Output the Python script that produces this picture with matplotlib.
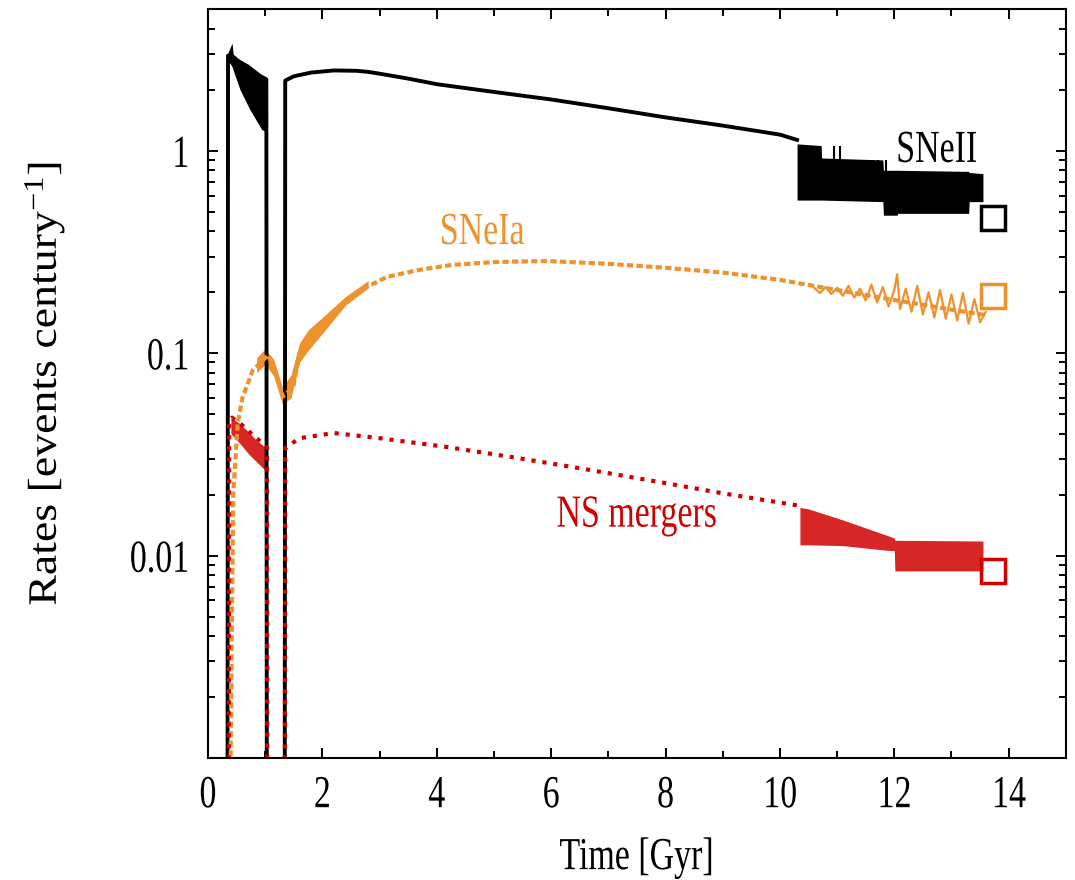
import numpy as np
import matplotlib
matplotlib.use("Agg")
import matplotlib.pyplot as plt
from matplotlib.patheffects import AbstractPathEffect
from matplotlib.transforms import Affine2D

plt.rcParams['font.family'] = ['Liberation Serif', 'DejaVu Serif']
plt.rcParams['mathtext.fontset'] = 'custom'
plt.rcParams['mathtext.rm'] = 'Liberation Serif'
plt.rcParams['mathtext.default'] = 'regular'

BLACK  = '#000000'
ORANGE = '#EE922E'
RED    = '#D00000'
FLOOR  = 1e-4      # below the axis: curve drops out of the plot

# ── Data ─────────────────────────────────────────────────────────────────────

# SNeII rate, black solid
sn2_t = [0.34, 0.35, 0.50, 0.70, 0.90, 1.02, 1.03, 1.34, 1.35, 1.50, 1.80,
         2.20, 2.60, 2.80, 3.00, 3.50, 4.00, 5.00, 6.00, 7.00, 8.00, 9.00,
         10.00, 10.30]
sn2_r = [FLOOR, 2.95, 2.80, 2.60, 2.35, 2.25, FLOOR, FLOOR, 2.22, 2.33, 2.43,
         2.49, 2.48, 2.45, 2.40, 2.27, 2.13, 1.95, 1.79, 1.62, 1.46, 1.33,
         1.20, 1.13]
sn2_early_t  = [0.35, 0.42, 0.44, 0.56, 0.73, 0.94, 1.00]
sn2_early_hi = [3.05, 3.40, 3.00, 2.80, 2.60, 2.35, 2.30]
sn2_early_lo = [2.80, 2.60, 2.50, 2.00, 1.60, 1.27, 1.25]
sn2_late_t  = [10.30, 10.72, 10.73, 11.80, 11.81, 12.05, 12.06, 13.30, 13.31, 13.55]
sn2_late_hi = [1.08, 1.06, 0.92, 0.90, 0.80, 0.80, 0.80, 0.79, 0.78, 0.77]
sn2_late_lo = [0.57, 0.57, 0.57, 0.56, 0.48, 0.48, 0.49, 0.49, 0.56, 0.56]
sn2_spike_t  = [10.95, 11.05, 11.62, 11.72, 11.86, 13.22, 13.30, 13.40, 13.48]
sn2_spike_hi = [1.05, 1.05, 0.90, 0.90, 0.90, 0.76, 0.76, 0.76, 0.76]

# SNeIa rate, orange dashed
ia_t = [0.36, 0.44, 0.52, 0.60, 0.78, 0.91, 1.05, 1.15, 1.31, 1.49, 1.60, 1.73,
        2.13, 2.60, 3.13, 3.70, 4.28, 5.05, 5.93, 7.00, 8.00, 9.00, 10.00,
        11.00, 12.00, 13.00, 13.60]
ia_r = [FLOOR, 0.020, 0.045, 0.060, 0.082, 0.089, 0.098, 0.085, 0.061, 0.068,
        0.100, 0.116, 0.151, 0.200, 0.238, 0.258, 0.273, 0.282, 0.285, 0.276,
        0.264, 0.250, 0.230, 0.205, 0.183, 0.164, 0.154]
ia_early_t  = [0.85, 1.00, 1.15, 1.30, 1.45, 1.60, 1.75, 2.00, 2.40, 2.80]
ia_early_hi = [0.095, 0.105, 0.093, 0.068, 0.078, 0.112, 0.130, 0.150, 0.190, 0.228]
ia_early_lo = [0.080, 0.088, 0.077, 0.056, 0.060, 0.090, 0.103, 0.125, 0.172, 0.210]
# noisy tail of the SNeIa rate
ia_noise_t = [10.6, 10.7, 10.8, 10.9, 11.0, 11.1, 11.2, 11.3, 11.4, 11.5, 11.6,
              11.7, 11.8, 11.9, 12.0, 12.05, 12.1, 12.2, 12.3, 12.4, 12.5, 12.6,
              12.7, 12.8, 12.9, 13.0, 13.1, 13.2, 13.3, 13.4, 13.5, 13.6]
ia_noise_r = [0.210, 0.198, 0.212, 0.196, 0.210, 0.192, 0.215, 0.188, 0.208,
              0.182, 0.218, 0.178, 0.212, 0.170, 0.205, 0.245, 0.165, 0.208,
              0.160, 0.215, 0.155, 0.200, 0.150, 0.205, 0.148, 0.195, 0.145,
              0.198, 0.140, 0.185, 0.142, 0.160]

# NS merger rate, red dotted
ns_t = [0.36, 0.37, 0.42, 0.60, 0.80, 1.00, 1.03, 1.04, 1.34, 1.35, 1.60,
        2.20, 3.00, 4.17, 5.33, 6.50, 8.00, 9.00, 10.30]
ns_r = [FLOOR, 0.046, 0.048, 0.044, 0.039, 0.035, 0.034, FLOOR, FLOOR, 0.034,
        0.038, 0.0403, 0.038, 0.0344, 0.0306, 0.027, 0.0228, 0.0203, 0.0177]
ns_early_t  = [0.40, 0.55, 0.70, 0.85, 1.00]
ns_early_hi = [0.048, 0.045, 0.041, 0.037, 0.0344]
ns_early_lo = [0.040, 0.036, 0.032, 0.029, 0.0264]
ns_late_t  = [10.35, 10.50, 11.10, 11.90, 12.00, 12.01, 13.55]
ns_late_hi = [0.0173, 0.0170, 0.0150, 0.0125, 0.0122, 0.0119, 0.0118]
ns_late_lo = [0.0113, 0.0113, 0.0112, 0.0106, 0.0106, 0.0084, 0.0084]

# present-day values, open squares
now_t = 13.72
now_r = {'SNeII': 0.466, 'SNeIa': 0.192, 'NS': 0.00837}

x_ticks = [0, 2, 4, 6, 8, 10, 12, 14]
y_ticks = [0.01, 0.1, 1]
y_tick_labels = ['0.01', '0.1', '1']


# ── Text squeeze (the reference is horizontally compressed) ──────────────────

class Squeeze(AbstractPathEffect):
    def __init__(self, sx=0.74, anchor=0.5, sy=1.0):
        super().__init__()
        self.sx = sx
        self.sy = sy
        self.anchor = anchor

    def draw_path(self, renderer, gc, tpath, affine, rgbFace=None):
        ext = tpath.get_extents()
        cx = ext.x0 + self.anchor * (ext.x1 - ext.x0)
        if not np.isfinite(cx):
            cx = 0.0
        sq = Affine2D().translate(-cx, 0).scale(self.sx, self.sy).translate(cx, 0)
        renderer.draw_path(gc, tpath, sq + affine, rgbFace)


# ── Plot ─────────────────────────────────────────────────────────────────────

fig = plt.figure(figsize=(10.75, 8.8), dpi=100)
ax = fig.add_axes([0.1935, 0.1386, 0.798, 0.851])

# black
ax.fill_between(sn2_early_t, sn2_early_lo, sn2_early_hi, color=BLACK, lw=0)
ax.fill_between(sn2_late_t, sn2_late_lo, sn2_late_hi, color=BLACK, lw=0)
ax.vlines(sn2_spike_t, sn2_late_lo[0], sn2_spike_hi, color=BLACK, lw=1.5)
ax.plot(sn2_t, sn2_r, color=BLACK, lw=2.8, solid_joinstyle='round')

# orange
ax.fill_between(ia_early_t, ia_early_lo, ia_early_hi, color=ORANGE, lw=0)
ax.plot(ia_noise_t, ia_noise_r, color=ORANGE, lw=1.6)
ax.plot(ia_t, ia_r, color=ORANGE, lw=3.0, ls=(0, (1.5, 0.8)))

# red
ax.fill_between(ns_early_t, ns_early_lo, ns_early_hi, color=RED, alpha=0.85, lw=0)
ax.fill_between(ns_late_t, ns_late_lo, ns_late_hi, color=RED, alpha=0.85, lw=0)
ax.plot(ns_t, ns_r, color=RED, lw=3.0, ls=':')

for key, col in [('SNeII', BLACK), ('SNeIa', ORANGE), ('NS', RED)]:
    ax.plot([now_t], [now_r[key]], marker='s', ms=17, mfc='none',
            mec=col, mew=2.5, ls='none')

fs = 33
txt = [
    ax.text(12.74, 1.0, 'SNeII', color=BLACK, fontsize=fs, ha='center', va='center'),
    ax.text(4.79, 0.393, 'SNeIa', color=ORANGE, fontsize=fs, ha='center', va='center'),
    ax.text(7.5, 0.0158, 'NS mergers', color=RED, fontsize=fs, ha='center', va='center'),
]

ax.set_yscale('log')
ax.set_xlim(0, 15)
ax.set_ylim(0.001, 5)
ax.set_xticks(x_ticks)
ax.set_xticks(np.arange(1, 15, 2), minor=True)
ax.set_yticks(y_ticks)
ax.set_yticklabels(y_tick_labels)
ax.yaxis.set_minor_formatter(plt.NullFormatter())

ax.tick_params(which='both', direction='in', top=True, right=True, width=1.4,
               labelsize=fs)
ax.tick_params(which='major', length=7.5)
ax.tick_params(which='minor', length=5)
ax.tick_params(axis='x', pad=12)
ax.tick_params(axis='y', pad=13)
for s in ax.spines.values():
    s.set_linewidth(1.5)

xl = ax.set_xlabel('Time [Gyr]', fontsize=fs, labelpad=14)
yl = ax.set_ylabel(r'Rates [events century$^{\mathregular{-1}}$]', fontsize=fs,
                   labelpad=30)

fig.canvas.draw()
for lab in ax.get_xticklabels():
    lab.set_path_effects([Squeeze(0.74, 0.5)])
for lab in ax.get_yticklabels():
    lab.set_path_effects([Squeeze(0.74, 1.0)])
for t in txt + [xl]:
    t.set_path_effects([Squeeze(0.74, 0.5)])
yl.set_path_effects([Squeeze(1.0, 0.5, 0.88)])

fig.savefig('out.png', dpi=100)
